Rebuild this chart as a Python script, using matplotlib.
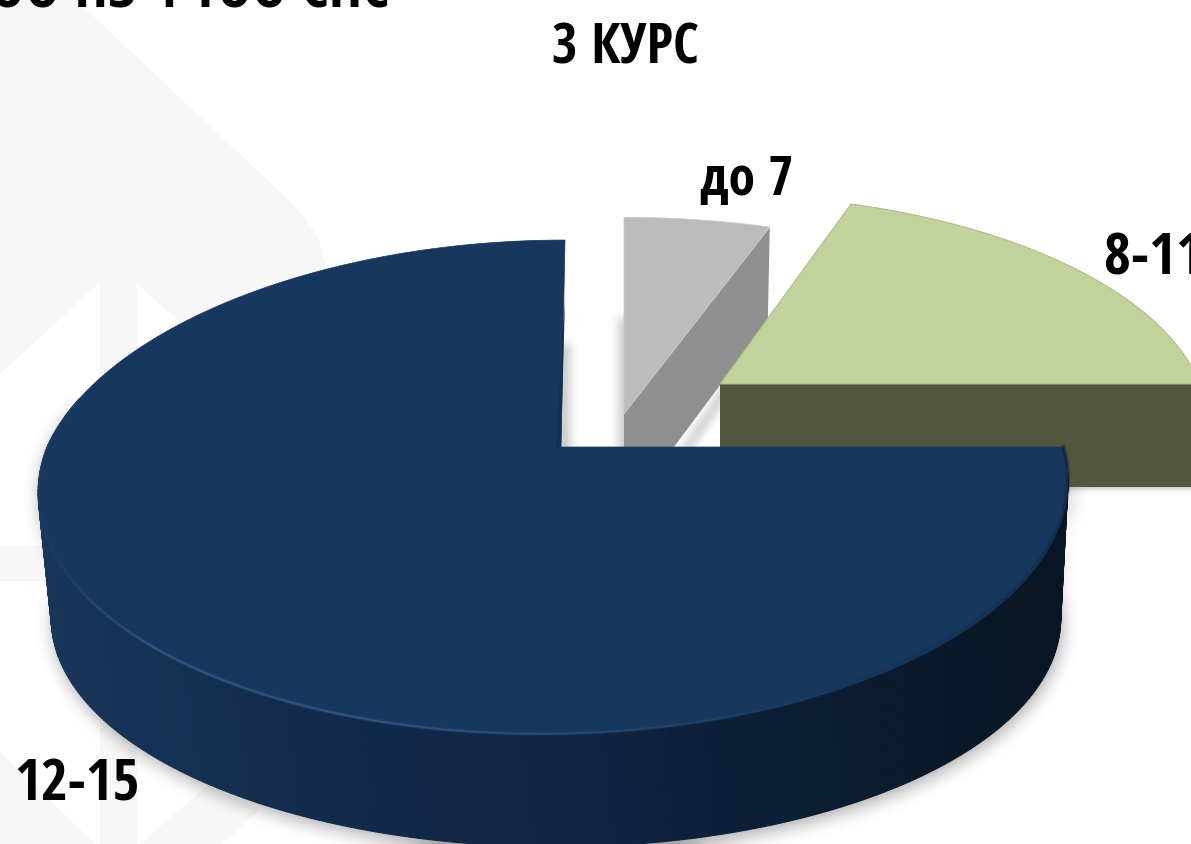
import numpy as np
import matplotlib.pyplot as plt
from matplotlib import font_manager as fm
from matplotlib.patches import Polygon
from matplotlib.path import Path
from matplotlib.colors import to_rgb
from matplotlib.textpath import TextPath

# slices, clockwise from 12 o'clock
labels = ['до 7', '8-11', '12-15']
shares = [5.4, 19.6, 75.0]
title = '3 КУРС'
cut_text = 'ОО НЗ 4 ТОО СНС'

W, H = 1191, 845
BEND = 0.162   # perspective of the disc
A = 240.5      # vertical radius
C = 508.0      # horizontal radius


def ink_share(fp):
    # how much of the box of a capital is filled, to tell heavy faces from thin ones
    tp = TextPath((0, 0), 'Н', size=100, prop=fp)
    area = 0
    for p in tp.to_polygons():
        area += abs(np.dot(p[:, 0], np.roll(p[:, 1], 1)) - np.dot(p[:, 1], np.roll(p[:, 0], 1))) / 2
    box = tp.get_extents()
    return area / (box.width * box.height), box.height


def closest_font():
    # heavy condensed face, nearest to the reference lettering
    best, best_score = None, 1e9
    for f in fm.fontManager.ttflist:
        if f.style != 'normal' or 'Mono' in f.name or 'Serif' in f.name:
            continue
        try:
            if ord('К') not in fm.get_font(f.fname).get_charmap():
                continue
            fp = fm.FontProperties(fname=f.fname)
            fill, cap = ink_share(fp)
            ratio = TextPath((0, 0), title, size=100, prop=fp).get_extents().width / cap
            score = abs(ratio - 3.46) / 3.46 + abs(fill - 0.72)
            if score < best_score:
                best, best_score = fp, score
        except Exception:
            continue
    return best


font = closest_font()


def fit(text, cap_px, width_px):
    # leans on the width, the height only nudges it
    w = TextPath((0, 0), text, size=100, prop=font).get_extents().width * 100 / 72
    h = TextPath((0, 0), 'Н', size=100, prop=font).get_extents().height * 100 / 72
    return 100 * (cap_px / h) ** 0.25 * (width_px / w) ** 0.75


def rim(deg, x0, y0, cx=C, sy=1.0, skew=10.0):
    t = np.radians(deg)
    u, v = np.cos(t), np.sin(t)
    k = 1 + BEND * v
    lean = skew * v * 1.162 + 14 * np.clip(v, 0, 1) * np.clip(-u, 0, 1)
    return x0 + (cx * u + lean) / k, y0 - sy * A * v / k


def mix(c1, c2, f):
    return tuple(np.array(to_rgb(c1)) * (1 - f) + np.array(to_rgb(c2)) * f)


def blur(a, r):
    for _ in range(3):
        for axis in (0, 1):
            c = np.cumsum(np.pad(a, [(r + 1, r) if i == axis else (0, 0) for i in (0, 1)], mode='edge'), axis=axis)
            a = (np.take(c, range(2 * r + 1, c.shape[axis]), axis=axis)
                 - np.take(c, range(0, c.shape[axis] - 2 * r - 1), axis=axis)) / (2 * r + 1)
    return a


gx_, gy_ = np.meshgrid(np.arange(W) + 0.5, np.arange(H) + 0.5)
grid = np.c_[gx_.ravel(), gy_.ravel()]


def shadow_of(points, r, strength):
    m = Path(points).contains_points(grid).reshape(H, W).astype(float)
    return blur(m, r) * strength


fig = plt.figure(figsize=(11.91, 8.45), dpi=100)
ax = fig.add_axes([0, 0, 1, 1])
ax.set_xlim(0, W)
ax.set_ylim(H, 0)
ax.axis('off')

# faint background shapes
bg = '#f7f7f7'
ax.add_patch(Polygon([(0, 0), (75, 0), (300, 212), (318, 238), (328, 275), (330, 430), (0, 430)],
                     fc=bg, ec='none', zorder=1))
ax.add_patch(Polygon([(100, 283), (0, 375), (0, 547), (100, 547)], fc='white', ec='none', zorder=1))
ax.add_patch(Polygon([(137, 285), (300, 430), (137, 430)], fc='white', ec='none', zorder=1))
ax.add_patch(Polygon([(0, 547), (60, 547), (60, 582), (0, 582)], fc=bg, ec='none', zorder=1))
ax.add_patch(Polygon([(100, 700), (137, 700), (137, H), (100, H)], fc=bg, ec='none', zorder=1))
ax.add_patch(Polygon([(0, 753), (95, H), (0, H)], fc=bg, ec='none', zorder=1))
ax.add_patch(Polygon([(140, H), (207, 787), (260, 810), (222, H)], fc=bg, ec='none', zorder=1))

angles = np.cumsum([0] + shares) / sum(shares) * 360
starts = 90 - angles[:-1]
ends = 90 - angles[1:]

shade = np.zeros((H, W))

# small slice
gx, gy = 624, 415
th = np.linspace(starts[0], ends[0], 30)
x, y = rim(th, gx, gy, cx=505, sy=0.95, skew=0)
ax.add_patch(Polygon([(gx, gy), (x[-1], y[-1]), (x[-1] - 2, y[-1] + 94), (gx, gy + 100)],
                     fc='#8f8f8f', ec='none', zorder=3))
ax.add_patch(Polygon(np.r_[[(gx, gy)], np.c_[x, y]], fc='#bcbcbc', ec='#c8c8c8', lw=0.6, zorder=4))
shade += shadow_of([(618, 318), (660, 318), (660, 480), (618, 480)], 4, 0.2)
shade += shadow_of([(x[-1] - 2, y[-1] + 90), (gx + 56, 452), (gx + 66, 452), (x[-1] + 4, y[-1] + 100)], 4, 0.22)

# middle slice
hx, hy = 720, 385
th = np.linspace(starts[1], ends[1], 80)
x, y = rim(th, hx, hy, cx=480, sy=0.915, skew=-8)
depth = 103
ax.add_patch(Polygon([(hx, hy), (x[-1], y[-1]), (x[-1], y[-1] + depth), (hx, hy + depth)],
                     fc='#51563c', ec='none', zorder=5))
ax.add_patch(Polygon(np.r_[[(hx, hy)], np.c_[x, y]], fc='#c1d39a', ec='#a9b98a', lw=0.7, zorder=6))
shade += shadow_of([(720, 470), (W + 30, 470), (W + 30, hy + depth + 1), (720, hy + depth + 1)], 3, 0.3)

# big slice
bx, by = 561, 448
x0 = 555
th = np.linspace(starts[2], ends[2], 240)
x, y = rim(th, x0, by)

low = np.linspace(starts[2], -192, 220)
tx, ty = rim(low, x0, by)
t = np.radians(low)
u, v = np.cos(t), np.sin(t)
k = 1 + BEND * v
lx = 556 + 498 * u / k
ly = by + 135 + 0.923 * A * -v / k

shade += shadow_of(np.c_[np.r_[tx, lx[::-1]] + 2, np.r_[ty, ly[::-1]] + 5], 8, 0.34)
shade += shadow_of([(540, 345), (571, 345), (571, 470), (540, 470)], 4, 0.2)

rgba = np.zeros((H, W, 4))
rgba[..., 3] = np.clip(shade, 0, 0.45)
ax.imshow(rgba, extent=(0, W, H, 0), aspect='auto', interpolation='bilinear', zorder=2)
ax.set_xlim(0, W)
ax.set_ylim(H, 0)

stops = [(38, '#193558'), (300, '#122b4c'), (620, '#0f2340'), (850, '#0b1c30'), (1070, '#081622')]
sx = [s[0] for s in stops]
for i in range(len(low) - 1):
    xm = (tx[i] + tx[i + 1]) / 2
    j = max(min(np.searchsorted(sx, xm), len(sx) - 1), 1)
    f = np.clip((xm - sx[j - 1]) / (sx[j] - sx[j - 1]), 0, 1)
    c = mix(stops[j - 1][1], stops[j][1], f)
    ax.add_patch(Polygon([(tx[i], ty[i]), (tx[i + 1], ty[i + 1]), (lx[i + 1], ly[i + 1]), (lx[i], ly[i])],
                         fc=c, ec=c, lw=0.8, zorder=7))

ax.add_patch(Polygon(np.r_[[(bx, by)], np.c_[x, y]], fc='#17375e', ec='#17375e', lw=0.5, zorder=8))
ax.add_patch(Polygon([(565, 300), (561, 448), (556, 448), (563, 330)], fc='#142f52', ec='none', zorder=9))

# light edge along the front of the top face, gone by the right side
for i in range(0, len(low) - 3, 2):
    xm = tx[i]
    if xm > 1000:
        continue
    fade = 0.7 * np.clip((xm - 40) / 120, 0.15, 1) * np.clip((900 - xm) / 500, 0, 1)
    for lw, al in [(4, 0.25), (2, 0.6)]:
        ax.plot(tx[i:i + 3], ty[i:i + 3], color='#4a6fa3', lw=lw * 0.72, alpha=fade * al,
                solid_capstyle='butt', zorder=9)

# dark bevel on the right part of the rim
for i in range(0, 70, 2):
    fade = np.clip(1 - i / 70, 0, 1)
    ax.plot(tx[i:i + 3], ty[i:i + 3] - 2, color='#0a1a2b', lw=3, alpha=0.4 * fade,
            solid_capstyle='butt', zorder=9)

# text
txt = dict(color='k', fontproperties=font, zorder=12, va='baseline')
ax.text(625, 63, title, ha='center', size=fit(title, 41, 142), **txt)
ax.text(747, 195, labels[0], ha='center', size=fit(labels[0], 46, 85), **txt)
ax.text(1104, 275, labels[1], ha='left', size=fit(labels[1], 46, 88), **txt)
ax.text(14, 801, labels[2], ha='left', size=fit(labels[2], 46, 116), **txt)
ax.text(-10, 7, cut_text, ha='left', size=fit(cut_text, 46, 385), **txt)

fig.savefig('out.png', dpi=100)
